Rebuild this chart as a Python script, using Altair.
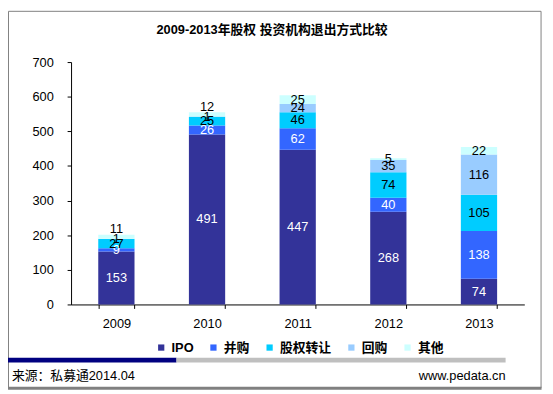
import altair as alt
import pandas as pd

years = ["2009", "2010", "2011", "2012", "2013"]
types = ["IPO", "并购", "股权转让", "回购", "其他"]
colors = ["#333399", "#3366FF", "#00CCFF", "#99CCFF", "#CCFFFF"]
ipo = [153, 491, 447, 268, 74]
mna = [9, 26, 62, 40, 138]
transfer = [27, 25, 46, 74, 105]
buyback = [1, 1, 24, 35, 116]
other = [11, 12, 25, 5, 22]
y_ticks = [0, 100, 200, 300, 400, 500, 600, 700]

title_text = "2009-2013年股权 投资机构退出方式比较"
source_text = "来源：私募通2014.04"
site_text = "www.pedata.cn"

series = [ipo, mna, transfer, buyback, other]
rows = []
for idx, (t, vals) in enumerate(zip(types, series)):
    for y, v in zip(years, vals):
        rows.append({"year": y, "type": t, "value": v, "idx": idx})
df = pd.DataFrame(rows)

FONT = "Arial, 'Liberation Sans', 'Noto Sans CJK SC', sans-serif"

xscale = alt.Scale(domain=years, paddingInner=0.6, paddingOuter=0.3)
yscale = alt.Scale(domain=[0, 700], nice=False, zero=True)

x_axis = alt.Axis(title=None, labelAngle=0, domainColor="black",
                  tickColor="black", tickBand="extent", tickSize=4,
                  labelFontSize=13, labelPadding=9, labelColor="black")
y_axis = alt.Axis(title=None, values=y_ticks, grid=False, tickSize=4,
                  labelPadding=14, labelFontSize=13, labelColor="black",
                  domainColor="black", tickColor="black", labelOverlap=False)

base = alt.Chart(df)

bars = base.mark_bar().encode(
    x=alt.X("year:N", scale=xscale, sort=years, axis=x_axis),
    y=alt.Y("value:Q", stack="zero", scale=yscale, axis=y_axis),
    color=alt.Color("type:N", scale=alt.Scale(domain=types, range=colors),
                    legend=alt.Legend(orient="none", legendX=85, legendY=283,
                                      direction="horizontal", title=None,
                                      symbolType="square", symbolSize=40,
                                      symbolStrokeWidth=0, labelFontSize=13,
                                      labelFontWeight="bold", labelColor="black",
                                      columnPadding=13, labelOffset=4)),
    order=alt.Order("idx:Q", sort="ascending"),
)

# label centre of each stacked segment; Excel nudges the small top labels upward
labels = base.transform_stack(
    stack="value", groupby=["year"], as_=["y0", "y1"],
    sort=[alt.SortField("idx", order="ascending")]
).transform_calculate(
    mid="(datum.y0 + datum.y1) / 2 + ((datum.idx == 4 && datum.value < 20 && datum.value > 9) ? 22 : 0)",
).mark_text(fontSize=13, baseline="middle", align="center").encode(
    x=alt.X("year:N", scale=xscale, sort=years, axis=x_axis),
    y=alt.Y("mid:Q", scale=yscale, axis=y_axis),
    text=alt.Text("value:Q"),
    color=alt.condition("datum.idx < 2", alt.value("white"), alt.value("black")),
)

one = alt.Data(values=[{"a": 1}])

title = alt.Chart(pd.DataFrame({"t": [title_text]})).mark_text(
    fontSize=13, fontWeight="bold", align="center", baseline="middle", color="black"
).encode(x=alt.value(204), y=alt.value(-32), text="t:N")

navy = alt.Chart(one).mark_rule(color="#000080", strokeWidth=5).encode(
    x=alt.value(-66), x2=alt.value(107), y=alt.value(302.5))
gray = alt.Chart(one).mark_rule(color="#BFBFBF", strokeWidth=5).encode(
    x=alt.value(107), x2=alt.value(441), y=alt.value(302.5))

src = alt.Chart(pd.DataFrame({"t": [source_text]})).mark_text(
    fontSize=13, align="left", baseline="middle", color="black"
).encode(x=alt.value(-60), y=alt.value(319), text="t:N")
site = alt.Chart(pd.DataFrame({"t": [site_text]})).mark_text(
    fontSize=13, align="right", baseline="middle", color="black"
).encode(x=alt.value(441), y=alt.value(319), text="t:N")

frame = alt.Chart(one).mark_rect(fill="transparent", stroke="#808080", strokeWidth=1).encode(
    x=alt.value(-63.5), x2=alt.value(477), y=alt.value(-51.5), y2=alt.value(330.5))
bottom = alt.Chart(one).mark_rule(color="#808080", strokeWidth=3).encode(
    x=alt.value(-64), x2=alt.value(477.5), y=alt.value(331))

chart = alt.layer(frame, bottom, bars, labels, title, navy, gray, src, site).properties(
    width=460, height=246,
    autosize=alt.AutoSizeParams(type="none"),
    padding={"left": 64, "top": 52, "right": 21, "bottom": 88},
    background="white",
).configure(font=FONT).configure_view(stroke=None)

chart.save("out.html", embed_options={"renderer": "svg", "actions": False})
